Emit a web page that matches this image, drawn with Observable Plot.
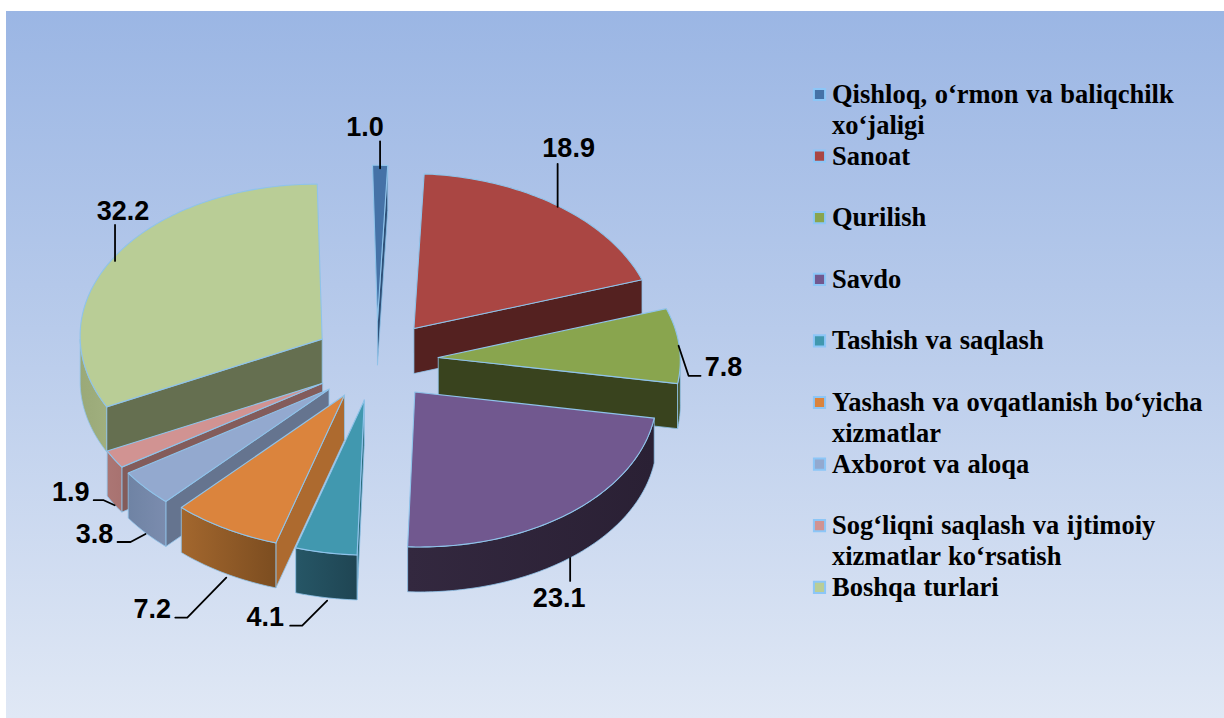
<!DOCTYPE html>
<html>
<head>
<meta charset="utf-8">
<script src="https://cdn.jsdelivr.net/npm/d3@7"></script>
<script src="https://cdn.jsdelivr.net/npm/@observablehq/plot@0.6"></script>
<style>
html,body{margin:0;padding:0;background:#fff;width:1224px;height:718px;overflow:hidden}
#panel{position:absolute;left:6px;top:11px;width:1218px;height:707px;background:linear-gradient(180deg,#9bb6e4 0%,#b8cbeb 45%,#e0e8f5 100%)}
#chart{position:absolute;left:0;top:0}
</style>
</head>
<body>
<div id="panel"></div>
<div id="chart"></div>
<script>
const categories = [
  "Qishloq, o‘rmon va baliqchilk\nxo‘jaligi",
  "Sanoat",
  "Qurilish",
  "Savdo",
  "Tashish va saqlash",
  "Yashash va ovqatlanish bo‘yicha\nxizmatlar",
  "Axborot va aloqa",
  "Sog‘liqni saqlash va ijtimoiy\nxizmatlar ko‘rsatish",
  "Boshqa turlari"
];
const values = [1.0, 18.9, 7.8, 23.1, 4.1, 7.2, 3.8, 1.9, 32.2];
const topColors  = ["#4572a7","#aa4643","#89a54e","#71588f","#4198af","#db843d","#93a9cf","#d19392","#b9cd96"];
const edgeColors = ["#2f5078","#542120","#39431e","#2d2338","#2a6b7c","#ad6a2f","#65748f","#835c5b","#656f50"];
const wallLeft   = ["#2f5078","#542120","#4a5a28","#33283f","#265666","#a3672e","#6f83a4","#ab7674","#9aa978"];
const wallRight  = ["#2f5078","#542120","#39431e","#2a2034","#1f4553","#7c4d20","#7b8cae","#a87270","#a0af7e"];

// label placement relative to each slice's outer-arc midpoint
const leaderOffsets = [
  [[-5,3],[-5,-24]],
  [[-4,1],[-4,-42]],
  [[-1,0],[9,30],[21,30]],
  [[4,0],[4,23]],
  [[6,3],[-19,28],[-31,28]],
  [[6,4],[-33,44],[-45,44]],
  [[5,4],[-10,12],[-23,12]],
  [[5,4],[-6,-1],[-16,-1]],
  [[-2,4],[-2,-32]]
];
const labelOffsets = [[-20,-38],[7,-57],[44,22],[-7,40],[-56,20],[-68,36],[-46,4],[-39,-9],[6,-46]];

// pie projection
const cx = 375, cy = 360, rx = 242, ry = 155, depth = 45, explode = 0.26, shear = 0.032;
const sliceNudge = [[0,0],[0,0],[0,0],[0,0],[0,0],[1,0],[2,3],[2,3],[0,0]];
const paintOrder = [0,8,1,2,3,7,6,5,4];
const outline = "#8fc3ea";
const rad = d => d * Math.PI / 180;

const total = d3.sum(values);
let acc = 0;
const slices = values.map((v, i) => {
  const a0 = acc / total * 360; acc += v;
  const a1 = acc / total * 360;
  const m = (a0 + a1) / 2;
  const tip = [cx + explode * rx * Math.sin(rad(m)) + sliceNudge[i][0], cy - explode * ry * Math.cos(rad(m)) + sliceNudge[i][1]];
  const pt = a => {
    const dy = -ry * Math.cos(rad(a));
    return [tip[0] + rx * Math.sin(rad(a)) + shear * dy, tip[1] + dy];
  };
  return {i, a0, a1, m, tip, pt};
});
const arc = (s, a0, a1) => {
  const out = [], n = Math.max(2, Math.ceil(a1 - a0) + 1);
  for (let k = 0; k < n; k++) out.push(s.pt(a0 + (a1 - a0) * k / (n - 1)));
  return out;
};
const drop = p => [p[0], p[1] + depth];
const poly = (pts, fill, sw = 1) => Plot.line([...pts, pts[0]], {
  x: d => d[0], y: d => d[1], fill, stroke: outline, strokeWidth: sw, strokeLinejoin: "round"
});

const marks = [];
marks.push(() => {
  const defs = d3.create("svg:defs");
  values.forEach((_, i) => {
    const g = defs.append("linearGradient").attr("id", "wall" + i);
    g.append("stop").attr("offset", "0%").attr("stop-color", wallLeft[i]);
    g.append("stop").attr("offset", "100%").attr("stop-color", wallRight[i]);
  });
  return defs.node();
});

for (const idx of paintOrder) {
  const s = slices[idx];
  const radialWall = a => {
    const e = s.pt(a);
    return poly([s.tip, e, drop(e), drop(s.tip)], edgeColors[idx], 0.8);
  };
  if (Math.sin(rad(s.a1)) > 0) marks.push(radialWall(s.a1));
  if (Math.sin(rad(s.a0)) < -1e-6) marks.push(radialWall(s.a0));
  const w0 = Math.max(s.a0, 90), w1 = Math.min(s.a1, 270);
  if (w1 > w0) {
    const top = arc(s, w0, w1);
    marks.push(poly([...top, ...top.map(drop).reverse()], `url(#wall${idx})`, 0.8));
  }
  marks.push(poly([s.tip, ...arc(s, s.a0, s.a1)], topColors[idx], 1.1));
}

// value labels and leaders
const anchors = slices.map((s, i) => {
  const c = Math.cos(rad(s.m)), p = s.pt(s.m);
  return [p[0] + shear * ry * c - sliceNudge[i][0], p[1] + (c < 0 ? depth : 0) - sliceNudge[i][1]];
});
leaderOffsets.forEach((offs, i) => {
  marks.push(Plot.line(offs, {
    x: d => anchors[i][0] + d[0], y: d => anchors[i][1] + d[1],
    stroke: "#000", strokeWidth: 1.8
  }));
});
marks.push(Plot.text(values, {
  x: (d, i) => anchors[i][0] + labelOffsets[i][0],
  y: (d, i) => anchors[i][1] + labelOffsets[i][1],
  text: d => d.toFixed(1),
  fontFamily: "Liberation Sans", fontWeight: "bold", fontSize: 27, fill: "#000",
  textAnchor: "middle", lineAnchor: "middle"
}));

// legend
const legendX = 819, legendTextX = 831.5, legendTop = 94, rowStep = 30.8;
let row = 0;
const legendRows = [], swatches = [];
categories.forEach((c, i) => {
  const lines = c.split("\n");
  swatches.push({i, y: legendTop + rowStep * row});
  lines.forEach((t, k) => legendRows.push({t, y: legendTop + rowStep * (row + k)}));
  row += 2;
});
marks.push(Plot.dot(swatches, {
  x: () => legendX, y: "y", symbol: "square", r: 6.3,
  fill: d => topColors[d.i], stroke: "#8cc6f7", strokeWidth: 2
}));
marks.push(Plot.text(legendRows, {
  x: () => legendTextX, y: "y", text: "t",
  fontFamily: "Liberation Serif", fontWeight: "bold", fontSize: 26.5, fill: "#000",
  textAnchor: "start", lineAnchor: "middle"
}));

const chart = Plot.plot({
  width: 1224, height: 718,
  marginTop: 0, marginRight: 0, marginBottom: 0, marginLeft: 0,
  x: {domain: [0, 1224], range: [0, 1224], axis: null},
  y: {domain: [0, 718], range: [0, 718], axis: null},
  style: {background: "transparent", overflow: "visible", wordSpacing: "1px"},
  marks
});
document.getElementById("chart").appendChild(chart);
</script>
</body>
</html>
